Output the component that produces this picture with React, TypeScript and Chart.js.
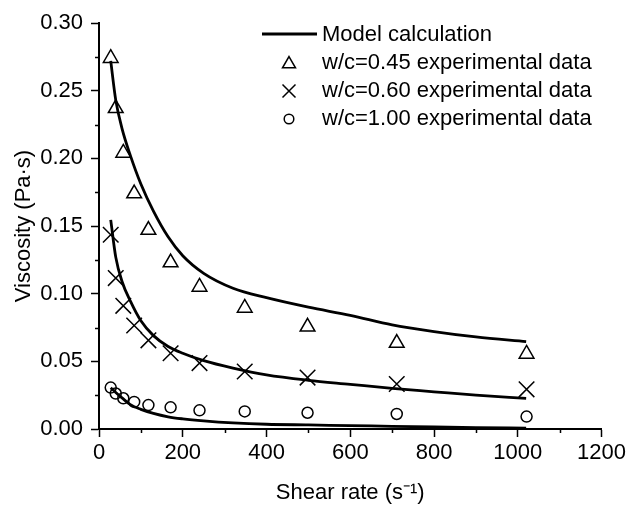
import React, { useEffect, useRef } from 'react';
import { Chart, registerables } from 'chart.js';

Chart.register(...registerables);

// ---- Data ----
const shearRateExp = [28, 40, 58, 84, 118, 171, 240, 348, 498, 711, 1021];
const viscosityWc045 = [0.274, 0.237, 0.204, 0.174, 0.147, 0.123, 0.105, 0.0895, 0.0755, 0.0635, 0.0555];
const viscosityWc060 = [0.1435, 0.1115, 0.091, 0.0765, 0.0655, 0.056, 0.0487, 0.0425, 0.038, 0.0333, 0.0293];
const viscosityWc100 = [0.0306, 0.0262, 0.0227, 0.02, 0.0177, 0.016, 0.0138, 0.013, 0.012, 0.0111, 0.0092];

const shearRateModel = [28, 40, 55, 75, 100, 130, 165, 200, 250, 320, 400, 500, 600, 700, 800, 900, 1020];
const modelWc045 = [0.272, 0.243, 0.222, 0.202, 0.181, 0.161, 0.142, 0.128, 0.115, 0.104, 0.097, 0.09, 0.084, 0.077, 0.072, 0.068, 0.0645];
const modelWc060 = [0.1545, 0.127, 0.109, 0.0945, 0.08, 0.069, 0.061, 0.056, 0.0505, 0.045, 0.04, 0.036, 0.033, 0.03, 0.0275, 0.025, 0.0227];
const modelWc100 = [0.0305, 0.027, 0.023, 0.018, 0.0145, 0.0115, 0.009, 0.0075, 0.006, 0.0045, 0.0035, 0.003, 0.0025, 0.002, 0.0015, 0.001, 0.0007];

const seriesLabels = [
  'Model calculation',
  'w/c=0.45 experimental data',
  'w/c=0.60 experimental data',
  'w/c=1.00 experimental data',
];

const xMinorTicks = [100, 300, 500, 700, 900, 1100];
const yMinorTicks = [0.025, 0.075, 0.125, 0.175, 0.225, 0.275];

const FONT = '"Liberation Sans", Arial, Helvetica, sans-serif';

const toPoints = (xs: number[], ys: number[]) => xs.map((x, i) => ({ x, y: ys[i] }));

const minorTicksPlugin = {
  id: 'minorTicks',
  afterDraw(chart: any) {
    const { ctx, chartArea, scales } = chart;
    ctx.save();
    ctx.strokeStyle = '#000';
    ctx.lineWidth = 1.5;
    ctx.beginPath();
    xMinorTicks.forEach((v) => {
      const px = Math.round(scales.x.getPixelForValue(v)) + 0.5;
      ctx.moveTo(px, chartArea.bottom);
      ctx.lineTo(px, chartArea.bottom + 4);
    });
    yMinorTicks.forEach((v) => {
      const py = Math.round(scales.y.getPixelForValue(v)) + 0.5;
      ctx.moveTo(chartArea.left - 4, py);
      ctx.lineTo(chartArea.left, py);
    });
    ctx.stroke();
    ctx.restore();
  },
};

const legendPlugin = {
  id: 'customLegend',
  afterDraw(chart: any) {
    const { ctx } = chart;
    const textX = 322;
    const markX = 289;
    const rowY = (i: number) => 35 + 28 * i;
    ctx.save();
    ctx.font = `22px ${FONT}`;
    ctx.fillStyle = '#000';
    ctx.textAlign = 'left';
    ctx.textBaseline = 'middle';
    seriesLabels.forEach((label, i) => ctx.fillText(label, textX, rowY(i)));

    ctx.strokeStyle = '#000';
    // line sample
    ctx.lineWidth = 2.8;
    ctx.beginPath();
    ctx.moveTo(262, 34);
    ctx.lineTo(317, 34);
    ctx.stroke();

    ctx.lineWidth = 1.5;
    // triangle
    let r = 7.5;
    let cy = rowY(1) + 1;
    ctx.beginPath();
    for (let k = 0; k < 3; k++) {
      const a = (k * 2 * Math.PI) / 3;
      const px = markX + Math.sin(a) * r;
      const py = cy - Math.cos(a) * r;
      if (k === 0) ctx.moveTo(px, py);
      else ctx.lineTo(px, py);
    }
    ctx.closePath();
    ctx.stroke();
    // cross
    r = 6.5;
    cy = rowY(2);
    ctx.beginPath();
    ctx.moveTo(markX - r, cy - r);
    ctx.lineTo(markX + r, cy + r);
    ctx.moveTo(markX - r, cy + r);
    ctx.lineTo(markX + r, cy - r);
    ctx.stroke();
    // circle
    cy = rowY(3);
    ctx.beginPath();
    ctx.arc(markX, cy, 4.8, 0, Math.PI * 2);
    ctx.stroke();
    ctx.restore();
  },
};

export default function App() {
  const canvasRef = useRef<HTMLCanvasElement | null>(null);

  useEffect(() => {
    if (!canvasRef.current) return;
    Chart.defaults.font.family = FONT;
    Chart.defaults.color = '#000';

    const modelStyle = {
      showLine: true,
      pointRadius: 0,
      borderColor: '#000',
      borderWidth: 2.8,
      cubicInterpolationMode: 'monotone' as const,
      clip: false as any,
    };
    const markerStyle = {
      showLine: false,
      borderColor: '#000',
      backgroundColor: 'rgba(0,0,0,0)',
      pointBorderWidth: 1.5,
      clip: false as any,
    };

    const chart = new Chart(canvasRef.current, {
      type: 'scatter',
      data: {
        datasets: [
          { label: seriesLabels[0], data: toPoints(shearRateModel, modelWc045), ...modelStyle },
          { label: seriesLabels[0], data: toPoints(shearRateModel, modelWc060), ...modelStyle },
          { label: seriesLabels[0], data: toPoints(shearRateModel, modelWc100), ...modelStyle },
          { label: seriesLabels[1], data: toPoints(shearRateExp, viscosityWc045), pointStyle: 'triangle', pointRadius: 8.5, ...markerStyle },
          { label: seriesLabels[2], data: toPoints(shearRateExp, viscosityWc060), pointStyle: 'crossRot', pointRadius: 11, ...markerStyle },
          { label: seriesLabels[3], data: toPoints(shearRateExp, viscosityWc100), pointStyle: 'circle', pointRadius: 5.5, ...markerStyle },
        ] as any,
      },
      options: {
        responsive: false,
        animation: false,
        devicePixelRatio: 1,
        layout: { padding: { left: 0, right: 26, top: 23, bottom: 0 } },
        plugins: {
          legend: { display: false },
          tooltip: { enabled: false },
        },
        scales: {
          x: {
            type: 'linear',
            min: 0,
            max: 1200,
            afterFit: (scale: any) => {
              scale.height = 77;
            },
            ticks: {
              stepSize: 200,
              maxRotation: 0,
              padding: 3,
              color: '#000',
              font: { size: 22, family: FONT },
              callback: (v: any) => String(Math.round(Number(v))),
            },
            grid: {
              drawOnChartArea: false,
              drawTicks: true,
              tickLength: 8,
              tickWidth: 1.5,
              tickColor: '#000',
            },
            border: { display: true, color: '#000', width: 2 },
            title: {
              display: true,
              text: 'Shear rate (s⁻¹)',
              color: '#000',
              font: { size: 22, family: FONT },
              padding: { top: 0, bottom: 0 },
            },
          },
          y: {
            type: 'linear',
            min: 0,
            max: 0.3,
            afterFit: (scale: any) => {
              scale.width = 99;
            },
            ticks: {
              stepSize: 0.05,
              padding: 8,
              color: '#000',
              font: { size: 22, family: FONT },
              callback: (v: any) => Number(v).toFixed(2),
            },
            grid: {
              drawOnChartArea: false,
              drawTicks: true,
              tickLength: 8,
              tickWidth: 1.5,
              tickColor: '#000',
            },
            border: { display: true, color: '#000', width: 2 },
            title: {
              display: true,
              text: 'Viscosity (Pa·s)',
              color: '#000',
              font: { size: 22, family: FONT },
              padding: { top: 11, bottom: 0 },
            },
          },
        },
      } as any,
      plugins: [minorTicksPlugin, legendPlugin],
    });
    return () => chart.destroy();
  }, []);

  return (
    <div style={{ position: 'absolute', left: 0, top: 0, width: 629, height: 506, background: '#fff' }}>
      <canvas ref={canvasRef} width={629} height={506} style={{ width: 629, height: 506, display: 'block' }} />
    </div>
  );
}
